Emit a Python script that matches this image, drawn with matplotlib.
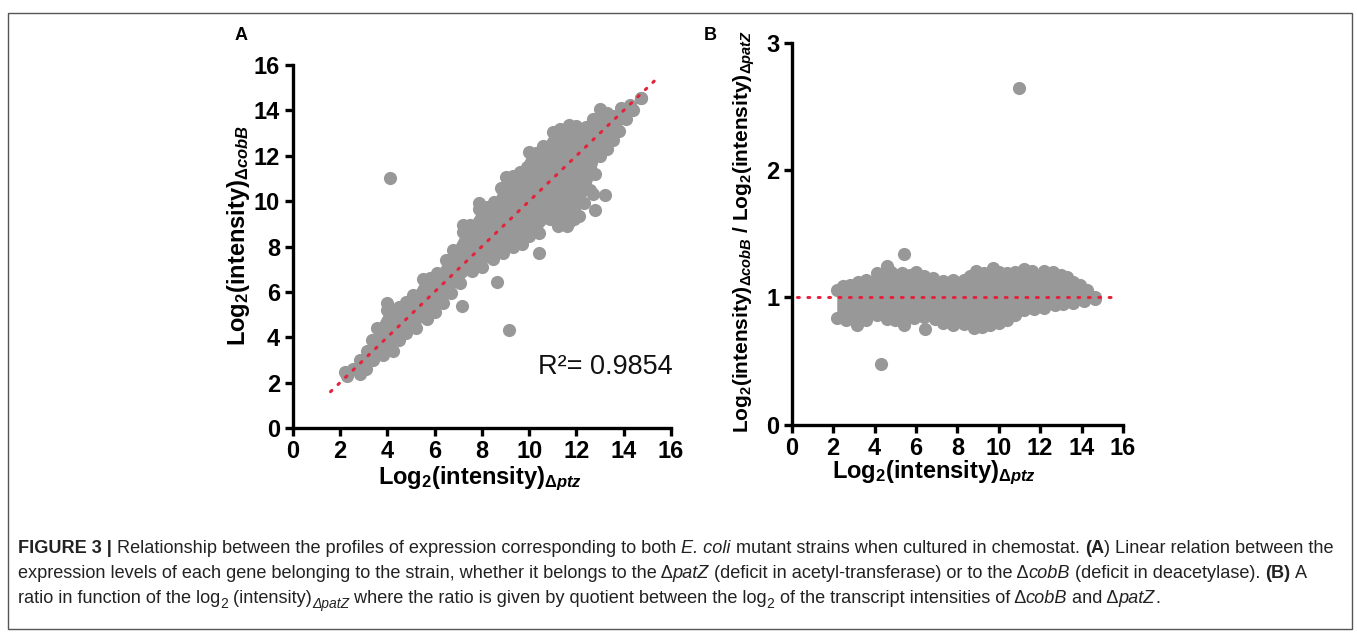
import numpy as np
import matplotlib
matplotlib.use('Agg')
import matplotlib.pyplot as plt
from matplotlib.patches import Rectangle

# ---- data ----
# panel A: outline of the dense cloud (centres of the outermost points)
a_upper_x = [2.2, 2.56, 2.85, 3.13, 3.35, 3.55, 3.97, 4.25, 4.5, 4.8, 5.1, 5.5, 5.8, 6.1, 6.5, 6.8,
             7.2, 7.5, 7.9, 8.2, 8.5, 8.8, 9.04, 9.3, 9.6, 10.0, 10.3, 10.6, 11.0, 11.3, 11.7, 12.0,
             12.4, 12.7, 13.0, 13.3, 13.55, 13.9, 14.25, 14.75]
a_upper_y = [2.45, 2.6, 3.0, 3.4, 3.9, 4.4, 5.2, 5.2, 5.35, 5.55, 5.85, 6.55, 6.6, 6.85, 7.4, 7.85,
             8.65, 8.95, 9.65, 9.75, 9.95, 10.6, 11.05, 11.1, 11.3, 12.15, 12.1, 12.45, 13.05, 13.2,
             13.35, 13.3, 13.25, 13.6, 14.05, 13.9, 13.75, 14.1, 14.25, 14.55]
a_lower_x = [2.3, 2.85, 3.1, 3.4, 3.8, 4.25, 4.5, 4.8, 5.2, 5.66, 6.0, 6.37, 6.7, 7.07, 7.6, 8.0,
             8.48, 8.9, 9.3, 9.7, 10.0, 10.4, 10.9, 11.2, 11.6, 12.1, 12.3, 12.56, 12.8, 13.0,
             13.3, 13.55, 13.8, 14.1, 14.4, 14.75]
a_lower_y = [2.3, 2.4, 2.6, 3.0, 3.2, 3.4, 3.9, 4.2, 4.4, 4.8, 5.1, 5.5, 5.95, 6.4, 6.9, 7.1,
             7.45, 7.7, 8.0, 8.1, 8.45, 8.6, 9.2, 8.9, 8.9, 9.35, 9.9, 10.5, 11.2, 12.0,
             12.3, 12.7, 13.1, 13.6, 14.0, 14.55]
a_out_x = [4.11, 9.15, 7.14, 8.65, 10.4, 12.77, 13.2, 12.7, 7.2, 7.9, 11.7, 11.9, 9.9, 4.0]
a_out_y = [11.0, 4.32, 5.37, 6.45, 7.72, 9.6, 10.26, 10.3, 8.94, 9.9, 9.1, 9.2, 11.5, 5.5]
a_fit_x = [1.6, 15.5]
r2_text = 'R\u00b2= 0.9854'

# panel B: ratio cloud outline and outliers
b_upper_x = [2.2, 2.5, 2.8, 3.2, 3.6, 3.85, 4.1, 4.35, 4.6, 4.8, 5.0, 5.35, 5.7, 6.0, 6.4, 6.8,
             7.3, 7.8, 8.3, 8.6, 8.9, 9.3, 9.7, 10.0, 10.4, 10.8, 11.2, 11.6, 12.2, 12.6, 13.0,
             13.3, 13.6, 13.9, 14.25, 14.65]
b_upper_y = [1.06, 1.09, 1.10, 1.12, 1.14, 1.12, 1.19, 1.15, 1.25, 1.2, 1.18, 1.19, 1.18, 1.2, 1.17, 1.15,
             1.13, 1.14, 1.14, 1.17, 1.21, 1.19, 1.23, 1.2, 1.19, 1.2, 1.22, 1.21, 1.21, 1.2, 1.18,
             1.16, 1.12, 1.1, 1.06, 1.0]
b_lower_x = [2.2, 2.6, 3.14, 3.6, 4.1, 4.6, 5.0, 5.4, 5.9, 6.4, 6.9, 7.3, 7.8, 8.3, 8.8, 9.2,
             9.6, 10.0, 10.4, 10.8, 11.2, 11.7, 12.2, 12.7, 13.1, 13.6, 14.1, 14.65]
b_lower_y = [0.84, 0.82, 0.78, 0.82, 0.86, 0.83, 0.82, 0.78, 0.84, 0.85, 0.83, 0.80, 0.78, 0.79, 0.76, 0.77,
             0.78, 0.80, 0.82, 0.86, 0.90, 0.91, 0.92, 0.94, 0.95, 0.96, 0.97, 0.99]
b_out_x = [11.0, 4.3, 6.44, 5.4]
b_out_y = [2.65, 0.48, 0.75, 1.34]
b_ref_x = [0.25, 15.5]
b_ref_y = [1, 1]

xticks = [0, 2, 4, 6, 8, 10, 12, 14, 16]
a_yticks = [0, 2, 4, 6, 8, 10, 12, 14, 16]
b_yticks = [0, 1, 2, 3]

GREY = '#989898'
RED = '#e3243c'
FONT = 'Liberation Sans'

plt.rcParams['mathtext.fontset'] = 'custom'
plt.rcParams['mathtext.rm'] = 'Liberation Sans:bold'
plt.rcParams['mathtext.it'] = 'Liberation Sans:bold:italic'
plt.rcParams['mathtext.bf'] = 'Liberation Sans:bold'

W, H = 1357, 635
fig = plt.figure(figsize=(W / 100, H / 100), dpi=100)


def px_axes(l, t, r, b):
    return fig.add_axes([l / W, 1 - b / H, (r - l) / W, (b - t) / H])


def style_axes(ax, yticks):
    for s in ['top', 'right']:
        ax.spines[s].set_visible(False)
    for s in ['left', 'bottom']:
        ax.spines[s].set_linewidth(2.4)
    ax.set_xticks(xticks)
    ax.set_yticks(yticks)
    ax.tick_params(direction='out', length=6, width=2.4, pad=3)
    for lab in ax.get_xticklabels() + ax.get_yticklabels():
        lab.set_fontfamily(FONT)
        lab.set_fontweight('bold')
        lab.set_fontsize(17)


def cloud(ax, ux, uy, lx, ly, ox, oy):
    px = list(ux) + list(lx[::-1])
    py = list(uy) + list(ly[::-1])
    ax.fill(px, py, color=GREY, lw=0, zorder=2)
    ax.scatter(px, py, s=90, color=GREY, lw=0, zorder=2)
    ax.scatter(ox, oy, s=90, color=GREY, lw=0, zorder=2)


# panel A
axA = px_axes(292.7, 65, 671, 428)
axA.set_xlim(0, 16)
axA.set_ylim(0, 16)
cloud(axA, a_upper_x, a_upper_y, a_lower_x, a_lower_y, a_out_x, a_out_y)
axA.plot(a_fit_x, a_fit_x, color=RED, lw=2.2, linestyle=(0, (0.6, 2.8)),
         dash_capstyle='round', zorder=3)
axA.text(13.24, 2.69, r2_text, ha='center', va='center', fontsize=19.5,
         family=FONT, color='#111111')
style_axes(axA, a_yticks)
axA.set_xlabel(r'Log$_2$(intensity)$_{\Delta ptz}$', fontsize=17, fontweight='bold', family=FONT)
axA.set_ylabel(r'Log$_2$(intensity)$_{\Delta cobB}$', fontsize=17, fontweight='bold', family=FONT)
axA.xaxis.set_label_coords(0.495, -0.1)
axA.yaxis.set_label_coords(-0.108, 0.53)

# panel B
axB = px_axes(791.7, 43, 1123, 424.7)
axB.set_xlim(0, 16)
axB.set_ylim(0, 3)
cloud(axB, b_upper_x, b_upper_y, b_lower_x, b_lower_y, b_out_x, b_out_y)
axB.plot(b_ref_x, b_ref_y, color=RED, lw=2.2, linestyle=(0, (0.6, 2.8)),
         dash_capstyle='round', zorder=3)
style_axes(axB, b_yticks)
axB.set_xlabel(r'Log$_2$(intensity)$_{\Delta ptz}$', fontsize=17, fontweight='bold', family=FONT)
axB.set_ylabel(r'Log$_2$(intensity)$_{\Delta cobB}$ / Log$_2$(intensity)$_{\Delta patZ}$',
               fontsize=15, fontweight='bold', family=FONT)
axB.xaxis.set_label_coords(0.43, -0.09)
axB.yaxis.set_label_coords(-0.105, 0.505)

fig.text(235 / W, 1 - 35 / H, 'A', fontsize=13, fontweight='bold', family=FONT,
         ha='left', va='center')
fig.text(704 / W, 1 - 35 / H, 'B', fontsize=13, fontweight='bold', family=FONT,
         ha='left', va='center')

# outer frame
fig.add_artist(Rectangle((8 / W, 1 - 629 / H), 1344 / W, 616 / H, transform=fig.transFigure,
                         fill=False, lw=1.0, ec='#555555'))

# caption, written in runs of differing style
renderer = fig.canvas.get_renderer()
CAP = 13.1


def run_width(s, **kw):
    t1 = fig.text(0, 0, s + 'x', fontsize=kw.get('size', CAP), fontweight=kw.get('weight', 'normal'),
                  fontstyle=kw.get('style', 'normal'), family=FONT)
    t2 = fig.text(0, 0, 'x', fontsize=kw.get('size', CAP), fontweight=kw.get('weight', 'normal'),
                  fontstyle=kw.get('style', 'normal'), family=FONT)
    w = t1.get_window_extent(renderer).width - t2.get_window_extent(renderer).width
    t1.remove()
    t2.remove()
    return w


def caption_line(y, runs):
    x = 18
    for r in runs:
        s = r[0]
        kw = r[1] if len(r) > 1 else {}
        dy = kw.get('dy', 0)
        fig.text(x / W, 1 - (y + dy) / H, s, fontsize=kw.get('size', CAP),
                 fontweight=kw.get('weight', 'normal'), fontstyle=kw.get('style', 'normal'),
                 family=FONT, color='#222222', va='baseline')
        x += run_width(s, **kw)


B_ = {'weight': 'bold'}
I_ = {'style': 'italic'}
SUB = {'size': 10, 'dy': 5}
ISUB = {'size': 10, 'dy': 5, 'style': 'italic'}

caption_line(553, [('FIGURE 3 | ', B_),
                   ('Relationship between the profiles of expression corresponding to both ',),
                   ('E. coli', I_), (' mutant strains when cultured in chemostat. ',),
                   ('(A', B_), (') Linear relation between the',)])
caption_line(578, [('expression levels of each gene belonging to the strain, whether it belongs to the \u0394',),
                   ('patZ', I_), (' (deficit in acetyl-transferase) or to the \u0394',), ('cobB', I_),
                   (' (deficit in deacetylase). ',), ('(B)', B_), (' A',)])
caption_line(603, [('ratio in function of the log',), ('2', SUB), (' (intensity)',), ('\u0394patZ', ISUB),
                   (' where the ratio is given by quotient between the log',), ('2', SUB),
                   (' of the transcript intensities of \u0394',), ('cobB', I_), (' and \u0394',),
                   ('patZ', I_), ('.',)])

fig.savefig('out.png', dpi=100)
